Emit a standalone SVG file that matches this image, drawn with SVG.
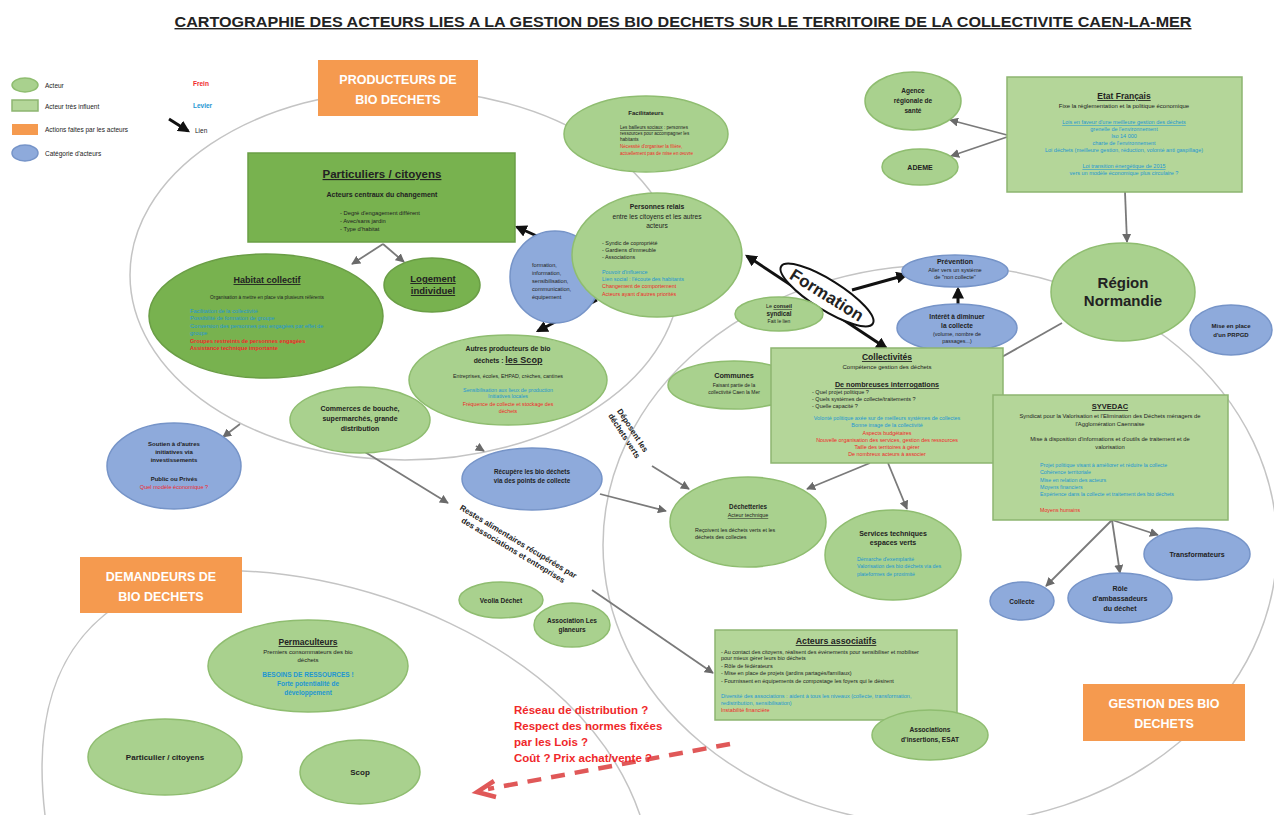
<svg xmlns="http://www.w3.org/2000/svg" width="1274" height="815" viewBox="0 0 1274 815">
<defs>
<style>
text{font-family:"Liberation Sans",Arial,sans-serif;fill:#222}
.c{text-anchor:middle}
.b{font-weight:bold}
.u{text-decoration:underline}
.bl{fill:#1e96d2}
.rd{fill:#f0282a}
.act{fill:#a9d18e;stroke:#8fbd70;stroke-width:1.5}
.dk{fill:#78b24f;stroke:#6a9e45;stroke-width:1.5}
.cat{fill:#8eaadb;stroke:#7694c8;stroke-width:1.5}
.box{fill:#b4d699;stroke:#8db570;stroke-width:1.5}
.org{fill:#f59a4f}
.ot{fill:#fff;font-weight:bold;font-size:12.5px;text-anchor:middle}
.zone{fill:none;stroke:#c4c4c4;stroke-width:1.5}
.lk{fill:none;stroke:#7a7a7a;stroke-width:1.8;marker-end:url(#ag)}
.th{fill:none;stroke:#111;stroke-width:3;marker-end:url(#ab)}
</style>
<marker id="ag" viewBox="0 0 10 10" refX="9" refY="5" markerWidth="5" markerHeight="5" orient="auto"><path d="M0,0 L10,5 L0,10 z" fill="#6a6a6a"/></marker>
<marker id="ab" viewBox="0 0 10 10" refX="8" refY="5" markerWidth="4" markerHeight="4" orient="auto"><path d="M0,0 L10,5 L0,10 z" fill="#111"/></marker>
<marker id="abs" viewBox="0 0 10 10" refX="2" refY="5" markerWidth="4" markerHeight="4" orient="auto"><path d="M10,0 L0,5 L10,10 z" fill="#111"/></marker>
</defs>
<rect width="1274" height="815" fill="#fff"/>
<text x="683" y="27" class="c b u" font-size="14" textLength="1017" lengthAdjust="spacingAndGlyphs">CARTOGRAPHIE DES ACTEURS LIES A LA GESTION DES BIO DECHETS SUR LE TERRITOIRE DE LA COLLECTIVITE CAEN-LA-MER</text>

<g id="zones">
<ellipse cx="405" cy="275" rx="275" ry="185" class="zone"/>
<ellipse cx="940" cy="545" rx="337" ry="280" class="zone"/>
<path d="M45,815 C30,690 70,600 200,572 C340,560 580,640 640,815" class="zone"/>
</g>

<g id="legend">
<ellipse cx="25" cy="85" rx="13" ry="7" class="act"/>
<text x="45" y="88" font-size="6.5">Acteur</text>
<rect x="12" y="100" width="26" height="11" class="box"/>
<text x="45" y="109" font-size="6.5">Acteur très influent</text>
<rect x="12" y="124" width="26" height="11" class="org"/>
<text x="45" y="132" font-size="6.5">Actions faites par les acteurs</text>
<ellipse cx="25" cy="153" rx="13" ry="8" class="cat"/>
<text x="45" y="156" font-size="6.5">Catégorie d'acteurs</text>
<text x="193" y="86" font-size="6.5" class="b rd">Frein</text>
<text x="193" y="108" font-size="6.5" class="b bl">Levier</text>
<line x1="169" y1="119" x2="188" y2="131" class="th" stroke-width="2"/>
<text x="195" y="133" font-size="6.5">Lien</text>
</g>

<g id="producteurs-label"><rect x="318" y="60" width="160" height="56" class="org"/><text x="398" y="84" class="ot">PRODUCTEURS DE</text><text x="398" y="104" class="ot">BIO DECHETS</text></g>
<g id="demandeurs-label"><rect x="80" y="557" width="162" height="56" class="org"/><text x="161" y="581" class="ot">DEMANDEURS DE</text><text x="161" y="601" class="ot">BIO DECHETS</text></g>
<g id="gestion-label"><rect x="1083" y="684" width="162" height="57" class="org"/><text x="1164" y="708" class="ot">GESTION DES BIO</text><text x="1164" y="728" class="ot">DECHETS</text></g>

<g id="connectors">
<line x1="383" y1="244" x2="352" y2="264" class="lk"/>
<line x1="383" y1="244" x2="404" y2="262" class="lk"/>
<line x1="572" y1="252" x2="517" y2="227" class="th"/>
<line x1="597" y1="300" x2="538" y2="331" class="th"/>
<line x1="747" y1="256" x2="886" y2="348" class="th" marker-start="url(#abs)"/>
<line x1="852" y1="290" x2="906" y2="275" class="th"/>
<line x1="958" y1="304" x2="958" y2="289" class="th"/>
<line x1="1007" y1="135" x2="950" y2="120" class="lk"/>
<line x1="1007" y1="137" x2="951" y2="156" class="lk"/>
<line x1="1125" y1="192" x2="1127" y2="242" class="lk"/>
<line x1="1062" y1="323" x2="993" y2="362" class="lk"/>
<line x1="1112" y1="520" x2="1046" y2="586" class="lk"/>
<line x1="1112" y1="520" x2="1120" y2="573" class="lk"/>
<line x1="1112" y1="520" x2="1158" y2="535" class="lk"/>
<line x1="870" y1="463" x2="807" y2="489" class="lk"/>
<line x1="888" y1="463" x2="907" y2="509" class="lk"/>
<line x1="240" y1="424" x2="223" y2="437" class="lk"/>
<line x1="476" y1="446" x2="484" y2="451" class="lk"/>
<line x1="600" y1="494" x2="666" y2="511" class="lk"/>
<line x1="652" y1="466" x2="689" y2="489" class="lk"/>
<g transform="translate(627,434) rotate(57)"><text x="0" y="-4" class="c b" font-size="8">Déposent les</text><text x="0" y="6" class="c b" font-size="8">déchets verts</text></g>
<line x1="360" y1="449" x2="448" y2="503" class="lk" marker-end="none"/>
<g transform="translate(517,544) rotate(31)"><text x="0" y="0" class="c b" font-size="8">Restes alimentaires récupérées par</text><text x="0" y="10" class="c b" font-size="8">des associations et entreprises</text></g>
<line x1="592" y1="590" x2="713" y2="673" class="lk"/>
<line x1="730" y1="744" x2="488" y2="789" stroke="#e05858" stroke-width="4.5" stroke-dasharray="14 10"/>
<path d="M494,781 L477,792 L496,797" fill="none" stroke="#e05858" stroke-width="4.5"/>
<g id="formation-label" transform="translate(827,295) rotate(32)"><ellipse cx="0" cy="0" rx="54" ry="15" fill="#fff" stroke="#111" stroke-width="2"/><text x="0" y="6" class="c b" font-size="17">Formation</text></g>
</g>

<g id="particuliers"><rect x="248" y="153" width="267" height="89" class="dk"/>
<text x="382" y="178" class="c b u" font-size="11.5">Particuliers / citoyens</text>
<text x="382" y="197" class="c b" font-size="7">Acteurs centraux du changement</text>
<text x="340" y="215" font-size="5.8">- Degré d'engagement différent</text>
<text x="340" y="223" font-size="5.8">- Avec/sans jardin</text>
<text x="340" y="231" font-size="5.8">- Type d'habitat</text></g>

<g id="habitat-collectif"><ellipse cx="266" cy="316" rx="117" ry="62" class="dk"/>
<text x="267" y="283" class="c b u" font-size="9">Habitat collectif</text>
<text x="267" y="299" class="c" font-size="4.8">Organisation à mettre en place via plusieurs référents</text>
<text x="190" y="313" class="bl" font-size="5.6">Facilitation de la collectivité</text>
<text x="190" y="320" class="bl" font-size="5.6">Possibilité de formation de groupe</text>
<text x="190" y="328" class="bl" font-size="5.6">Conversion des personnes peu engagées par effet de</text>
<text x="190" y="335" class="bl" font-size="5.6">groupe</text>
<text x="190" y="343" class="rd b" font-size="5.6">Groupes restreints de personnes engagées</text>
<text x="190" y="350" class="rd b" font-size="5.6">Assistance technique importante</text></g>

<g id="logement-individuel"><ellipse cx="432" cy="285" rx="48" ry="27" class="dk"/>
<text x="433" y="282" class="c b u" font-size="9.5">Logement</text>
<text x="433" y="294" class="c b u" font-size="9.5">individuel</text></g>

<g id="facilitateurs"><ellipse cx="646" cy="134" rx="82" ry="38" class="act"/>
<text x="646" y="115" class="c b" font-size="6">Facilitateurs</text>
<text x="620" y="129" font-size="4.6"><tspan class="u">Les bailleurs sociaux</tspan> : personnes</text>
<text x="620" y="135" font-size="4.6">ressources pour accompagner les</text>
<text x="620" y="141" font-size="4.6">habitants</text>
<text x="620" y="148" class="rd" font-size="4.6">Nécessité d'organiser la filière,</text>
<text x="620" y="155" class="rd" font-size="4.6">actuellement pas de mise en œuvre</text></g>

<g id="categorie-formation"><ellipse cx="555" cy="277" rx="45" ry="46" class="cat"/>
<text x="532" y="267" font-size="5.6">formation,</text>
<text x="532" y="275" font-size="5.6">information,</text>
<text x="532" y="283" font-size="5.6">sensibilisation,</text>
<text x="532" y="291" font-size="5.6">communication,</text>
<text x="532" y="299" font-size="5.6">équipement</text></g>

<g id="personnes-relais"><ellipse cx="657" cy="255" rx="85" ry="62" class="act"/>
<text x="657" y="209" class="c b" font-size="6.8">Personnes relais</text>
<text x="657" y="219" class="c" font-size="6.6">entre les citoyens et les autres</text>
<text x="657" y="228" class="c" font-size="6.6">acteurs</text>
<text x="602" y="245" font-size="5.4">- Syndic de copropriété</text>
<text x="602" y="252" font-size="5.4">- Gardiens d'immeuble</text>
<text x="602" y="259" font-size="5.4">- Associations</text>
<text x="602" y="274" class="bl" font-size="5.4">Pouvoir d'influence</text>
<text x="602" y="281" class="bl" font-size="5.4">Lien social : l'écoute des habitants</text>
<text x="602" y="288" class="rd" font-size="5.4">Changement de comportement</text>
<text x="602" y="296" class="rd" font-size="5.4">Acteurs ayant d'autres priorités</text></g>

<g id="autres-producteurs"><ellipse cx="508" cy="380" rx="99" ry="45" class="act"/>
<text x="508" y="351" class="c b" font-size="6.8">Autres producteurs de bio</text>
<text x="508" y="363" class="c b" font-size="6.8">déchets : <tspan class="u" font-size="9">les Scop</tspan></text>
<text x="508" y="378" class="c" font-size="5.3">Entreprises, écoles, EHPAD, crèches, cantines</text>
<text x="508" y="392" class="c bl" font-size="5.3">Sensibilisation aux lieux de production</text>
<text x="508" y="398" class="c bl" font-size="5.3">Initiatives locales</text>
<text x="508" y="406" class="c rd" font-size="5.3">Fréquence de collecte et stockage des</text>
<text x="508" y="413" class="c rd" font-size="5.3">déchets</text></g>

<g id="commerces"><ellipse cx="360" cy="420" rx="70" ry="33" class="act"/>
<text x="360" y="411" class="c b" font-size="7">Commerces de bouche,</text>
<text x="360" y="421" class="c b" font-size="7">supermarchés, grande</text>
<text x="360" y="431" class="c b" font-size="7">distribution</text></g>

<g id="soutien"><ellipse cx="174" cy="466" rx="67" ry="43" class="cat"/>
<text x="174" y="446" class="c b" font-size="6">Soutien à d'autres</text>
<text x="174" y="454" class="c b" font-size="6">initiatives via</text>
<text x="174" y="462" class="c b" font-size="6">investissements</text>
<text x="174" y="481" class="c b" font-size="6">Public ou Privés</text>
<text x="174" y="489" class="c rd" font-size="5.6">Quel modèle économique ?</text></g>

<g id="recupere"><ellipse cx="532" cy="479" rx="70" ry="31" class="cat"/>
<text x="532" y="474" class="c b" font-size="6.3">Récupère les bio déchets</text>
<text x="532" y="483" class="c b" font-size="6.3">via des points de collecte</text></g>

<g id="agence-sante"><ellipse cx="913" cy="101" rx="48" ry="29" class="act"/>
<text x="913" y="93" class="c b" font-size="6.5">Agence</text>
<text x="913" y="103" class="c b" font-size="6.5">régionale de</text>
<text x="913" y="113" class="c b" font-size="6.5">santé</text></g>

<g id="ademe"><ellipse cx="920" cy="167" rx="38" ry="18" class="act"/>
<text x="920" y="170" class="c b" font-size="7">ADEME</text></g>

<g id="etat-francais"><rect x="1007" y="77" width="235" height="115" class="box"/>
<text x="1124" y="99" class="c b u" font-size="8.5">Etat Français</text>
<text x="1124" y="108" class="c" font-size="6">Fixe la réglementation et la politique économique</text>
<text x="1124" y="124" class="c bl u" font-size="5.5">Lois en faveur d'une meilleure gestion des déchets</text>
<text x="1124" y="131" class="c bl" font-size="5.5">grenelle de l'environnement</text>
<text x="1124" y="138" class="c bl" font-size="5.5">Iso 14 000</text>
<text x="1124" y="145" class="c bl" font-size="5.5">charte de l'environnement</text>
<text x="1124" y="152" class="c bl" font-size="5.5">Loi déchets (meilleure gestion, réduction, volonté anti gaspillage)</text>
<text x="1124" y="168" class="c bl u" font-size="5.5">Loi transition énergétique de 2015</text>
<text x="1124" y="175" class="c bl" font-size="5.5">vers un modèle économique plus circulaire ?</text></g>

<g id="region-normandie"><ellipse cx="1123" cy="292" rx="72" ry="49" class="act"/>
<text x="1123" y="288" class="c b" font-size="15">Région</text>
<text x="1123" y="306" class="c b" font-size="15">Normandie</text></g>

<g id="prpgd"><ellipse cx="1231" cy="330" rx="41" ry="25" class="cat"/>
<text x="1231" y="328" class="c b" font-size="6">Mise en place</text>
<text x="1231" y="337" class="c b" font-size="6">d'un PRPGD</text></g>

<g id="prevention"><ellipse cx="955" cy="271" rx="53" ry="16" class="cat"/>
<text x="955" y="264" class="c b" font-size="7">Prévention</text>
<text x="955" y="272" class="c" font-size="5.6">Aller vers un système</text>
<text x="955" y="279" class="c" font-size="5.6">de "non collecte"</text></g>

<g id="interet-diminuer"><ellipse cx="957" cy="328" rx="60" ry="24" class="cat"/>
<text x="957" y="319" class="c b" font-size="6.6">Intérêt à diminuer</text>
<text x="957" y="328" class="c b" font-size="6.6">la collecte</text>
<text x="957" y="336" class="c" font-size="5.4">(volume, nombre de</text>
<text x="957" y="343" class="c" font-size="5.4">passages...)</text></g>

<g id="conseil-syndical"><ellipse cx="779" cy="314" rx="44" ry="17" class="act"/>
<text x="779" y="308" class="c" font-size="5.4">Le <tspan class="u b">conseil</tspan></text>
<text x="779" y="316" class="c b" font-size="6.3">syndical</text>
<text x="779" y="323" class="c" font-size="5">Fait le lien</text></g>

<g id="communes"><ellipse cx="734" cy="385" rx="66" ry="24" class="act"/>
<text x="734" y="378" class="c b" font-size="7.3">Communes</text>
<text x="734" y="387" class="c" font-size="5">Faisant partie de la</text>
<text x="734" y="394" class="c" font-size="5">collectivité Caen la Mer</text></g>

<g id="collectivites"><rect x="771" y="348" width="232" height="115" class="box"/>
<text x="887" y="360" class="c b u" font-size="8.5">Collectivités</text>
<text x="887" y="369" class="c" font-size="6">Compétence gestion des déchets</text>
<text x="887" y="387" class="c b u" font-size="7.2">De nombreuses interrogations</text>
<text x="812" y="394" font-size="5.5">- Quel projet politique ?</text>
<text x="812" y="401" font-size="5.5">- Quels systèmes de collecte/traitements ?</text>
<text x="812" y="408" font-size="5.5">- Quelle capacité ?</text>
<text x="887" y="420" class="c bl" font-size="5.4">Volonté politique axée sur de meilleurs systèmes de collectes</text>
<text x="887" y="427" class="c bl" font-size="5.4">Bonne image de la collectivité</text>
<text x="887" y="435" class="c rd" font-size="5.4">Aspects budgétaires</text>
<text x="887" y="442" class="c rd" font-size="5.4">Nouvelle organisation des services, gestion des ressources</text>
<text x="887" y="449" class="c rd" font-size="5.4">Taille des territoires à gérer</text>
<text x="887" y="456" class="c rd" font-size="5.4">De nombreux acteurs à associer</text></g>

<g id="syvedac"><rect x="993" y="395" width="235" height="125" class="box"/>
<text x="1110" y="409" class="c b u" font-size="7.5">SYVEDAC</text>
<text x="1110" y="418" class="c" font-size="5.8">Syndicat pour la Valorisation et l'Elimination des Déchets ménagers de</text>
<text x="1110" y="426" class="c" font-size="5.8">l'Agglomération Caennaise</text>
<text x="1110" y="441" class="c" font-size="5.8">Mise à disposition d'informations et d'outils de traitement et de</text>
<text x="1110" y="449" class="c" font-size="5.8">valorisation</text>
<text x="1040" y="467" class="bl" font-size="5.3">Projet politique visant à améliorer et réduire la collecte</text>
<text x="1040" y="474" class="bl" font-size="5.3">Cohérence territoriale</text>
<text x="1040" y="482" class="bl" font-size="5.3">Mise en relation des acteurs</text>
<text x="1040" y="489" class="bl" font-size="5.3">Moyens financiers</text>
<text x="1040" y="496" class="bl" font-size="5.3">Expérience dans la collecte et traitement des bio déchets</text>
<text x="1040" y="512" class="rd" font-size="5.3">Moyens humains</text></g>

<g id="transformateurs"><ellipse cx="1197" cy="554" rx="53" ry="26" class="cat"/>
<text x="1197" y="557" class="c b" font-size="7">Transformateurs</text></g>
<g id="role-ambassadeurs"><ellipse cx="1120" cy="598" rx="52" ry="25" class="cat"/>
<text x="1120" y="591" class="c b" font-size="7">Rôle</text>
<text x="1120" y="601" class="c b" font-size="7">d'ambassadeurs</text>
<text x="1120" y="611" class="c b" font-size="7">du déchet</text></g>
<g id="collecte"><ellipse cx="1022" cy="601" rx="32" ry="19" class="cat"/>
<text x="1022" y="604" class="c b" font-size="6.5">Collecte</text></g>

<g id="dechetteries"><ellipse cx="748" cy="522" rx="78" ry="45" class="act"/>
<text x="748" y="509" class="c b" font-size="6.3">Déchetteries</text>
<text x="748" y="517" class="c u" font-size="5.4">Acteur technique</text>
<text x="695" y="532" font-size="5.4">Reçoivent les déchets verts et les</text>
<text x="695" y="539" font-size="5.4">déchets des collectes</text></g>

<g id="services-techniques"><ellipse cx="893" cy="555" rx="68" ry="45" class="act"/>
<text x="893" y="536" class="c b" font-size="7">Services techniques</text>
<text x="893" y="545" class="c b" font-size="7">espaces verts</text>
<text x="857" y="561" class="bl" font-size="5.3">Démarche d'exemplarité</text>
<text x="857" y="568" class="bl" font-size="5.3">Valorisation des bio déchets via des</text>
<text x="857" y="576" class="bl" font-size="5.3">plateformes de proximité</text></g>

<g id="veolia"><ellipse cx="501" cy="600" rx="42" ry="18" class="act"/>
<text x="501" y="603" class="c b" font-size="6.5">Veolia Déchet</text></g>
<g id="glaneurs"><ellipse cx="572" cy="625" rx="38" ry="22" class="act"/>
<text x="572" y="623" class="c b" font-size="6.5">Association Les</text>
<text x="572" y="632" class="c b" font-size="6.5">glaneurs</text></g>

<g id="acteurs-associatifs"><rect x="715" y="630" width="242" height="90" class="box"/>
<text x="836" y="644" class="c b u" font-size="8.8">Acteurs associatifs</text>
<text x="721" y="654" font-size="5.5">- Au contact des citoyens, réalisent des événements pour sensibiliser et mobiliser</text>
<text x="721" y="660" font-size="5.5">pour mieux gérer leurs bio déchets</text>
<text x="721" y="668" font-size="5.5">- Rôle de fédérateurs</text>
<text x="721" y="675" font-size="5.5">- Mise en place de projets (jardins partagés/familiaux)</text>
<text x="721" y="683" font-size="5.5">- Fournissent en équipements de compostage les foyers qui le désirent</text>
<text x="721" y="698" class="bl" font-size="5.5">Diversité des associations : aident à tous les niveaux (collecte, transformation,</text>
<text x="721" y="705" class="bl" font-size="5.5">redistribution, sensibilisation)</text>
<text x="721" y="712" class="rd" font-size="5.5">Instabilité financière</text></g>

<g id="associations-insertion"><ellipse cx="930" cy="735" rx="58" ry="25" class="act"/>
<text x="930" y="732" class="c b" font-size="6.6">Associations</text>
<text x="930" y="742" class="c b" font-size="6.6">d'insertions, ESAT</text></g>

<g id="permaculteurs"><ellipse cx="308" cy="666" rx="100" ry="46" class="act"/>
<text x="308" y="645" class="c b u" font-size="8.5">Permaculteurs</text>
<text x="308" y="654" class="c" font-size="6">Premiers consommateurs des bio</text>
<text x="308" y="662" class="c" font-size="6">déchets</text>
<text x="308" y="677" class="c b bl" font-size="6.5">BESOINS DE RESSOURCES !</text>
<text x="308" y="686" class="c b bl" font-size="6.5">Forte potentialité de</text>
<text x="308" y="695" class="c b bl" font-size="6.5">développement</text></g>

<g id="particulier-citoyens"><ellipse cx="165" cy="757" rx="77" ry="38" class="act"/>
<text x="165" y="760" class="c b" font-size="8">Particulier / citoyens</text></g>
<g id="scop"><ellipse cx="360" cy="772" rx="60" ry="32" class="act"/>
<text x="360" y="775" class="c b" font-size="8">Scop</text></g>

<g id="questions">
<text x="514" y="714" class="b rd" font-size="11.5">Réseau de distribution ?</text>
<text x="514" y="730" class="b rd" font-size="11.5">Respect des normes fixées</text>
<text x="514" y="746" class="b rd" font-size="11.5">par les Lois ?</text>
<text x="514" y="762" class="b rd" font-size="11.5">Coût ? Prix achat/vente ?</text>
</g>
</svg>
